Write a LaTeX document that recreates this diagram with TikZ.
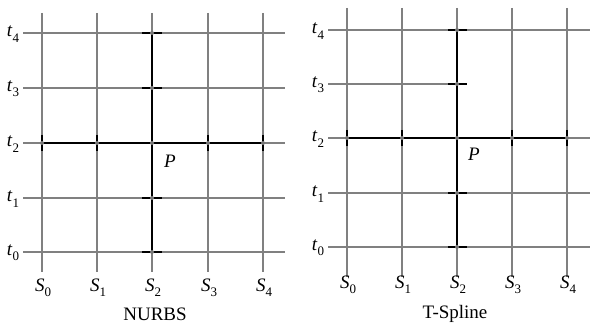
\documentclass[tikz,border=0pt]{standalone}
\usepackage{fontspec}
\setmainfont{Liberation Serif}
\newcommand{\mylbl}[2]{\textit{#1}\raisebox{-0.28em}{\fontsize{13}{15}\selectfont #2}}
\begin{document}
\begin{tikzpicture}[x=1pt,y=-1pt,
  grid/.style={draw={rgb,255:red,128;green,128;blue,128},line width=2.8pt},
  bold/.style={draw=black,line width=2.8pt},
  tick/.style={draw=black,line width=2.6pt},
  lab/.style={inner sep=0pt,font=\fontsize{19}{22}\selectfont},
  dot/.style={fill={rgb,255:red,120;green,120;blue,120},circle,inner sep=0pt,minimum size=4pt}]
\useasboundingbox (0,0) rectangle (590,326);
% ---------------- NURBS ----------------
\foreach \i/\x in {0/42,1/97,2/152,3/208,4/263}{
  \draw[grid] (\x,13) -- (\x,272);
  \node[lab] (LS\i) at (\x+1,288) {\mylbl{S}{\i}};
}
\foreach \j/\y in {0/252,1/198,2/143,3/88,4/33}{
  \draw[grid] (23,\y) -- (285,\y);
  \node[lab] (Lt\j) at (13,\y+1) {\mylbl{t}{\j}};
}
\draw[bold] (152,33) -- (152,252);
\draw[bold] (42,143) -- (263,143);
\foreach \y in {33,88,198,252}{\draw[tick] (142,\y) -- (162,\y);}
\foreach \x in {42,97,208,263}{\draw[tick] (\x,135) -- (\x,151);}
\foreach \y in {33,88,143,198,252}{\node[dot] at (152,\y) {};}
\foreach \x in {42,97,208,263}{\node[dot] at (\x,143) {};}
\node[lab] (LP) at (170,161) {\textit{P}};
\node[lab] (LN) at (155,314) {NURBS};
% ---------------- T-Spline ----------------
\foreach \i/\x in {0/347,1/402,2/457,3/512,4/567}{
  \draw[grid] (\x,8) -- (\x,277);
  \node[lab] (RS\i) at (\x+1,285) {\mylbl{S}{\i}};
}
\foreach \j/\y in {0/247,1/193,2/138,4/30}{
  \draw[grid] (328,\y) -- (590,\y);
  \node[lab] (Rt\j) at (318,\y+1) {\mylbl{t}{\j}};
}
\draw[grid] (328,84) -- (462,84);
\node[lab] (Rt3) at (318,85) {\mylbl{t}{3}};
\draw[bold] (457,30) -- (457,247);
\draw[bold] (347,138) -- (567,138);
\foreach \y in {30,84,193,247}{\draw[tick] (448,\y) -- (467,\y);}
\foreach \x in {347,402,512,567}{\draw[tick] (\x,130) -- (\x,146);}
\foreach \y in {30,84,138,193,247}{\node[dot] at (457,\y) {};}
\foreach \x in {347,402,512,567}{\node[dot] at (\x,138) {};}
\node[lab] (RP) at (474,154) {\textit{P}};
\node[lab] (RN) at (455,314) {T-Spline};
\end{tikzpicture}
\end{document}
